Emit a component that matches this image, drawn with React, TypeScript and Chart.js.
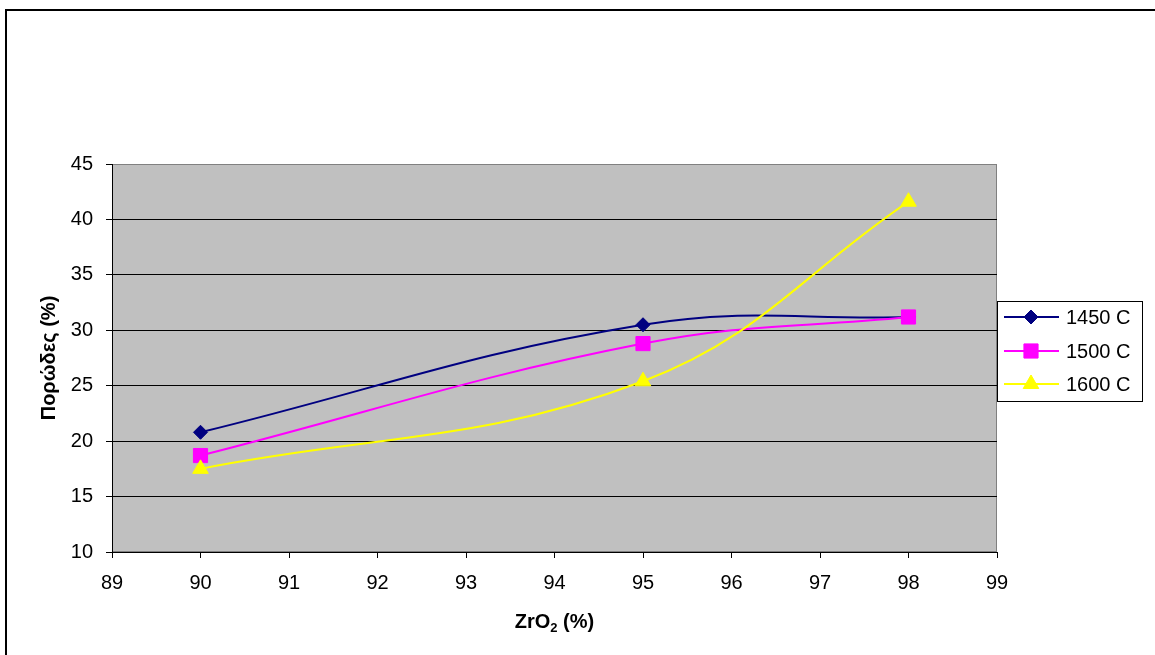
import React, { useEffect, useRef } from "react";
import { Chart, registerables } from "chart.js";

Chart.register(...registerables);

const xValues = [90, 95, 98];
const series1450 = [20.8, 30.5, 31.2];
const series1500 = [18.7, 28.8, 31.2];
const series1600 = [17.5, 25.4, 41.6];
const seriesNames = ["1450 C", "1500 C", "1600 C"];
const seriesColors = ["#000080", "#FF00FF", "#FFFF00"];
const seriesStyles = ["rectRot", "rect", "triangle"];
const seriesRadius = [7, 10, 9];
const xTitleMain = "ZrO";
const xTitleSub = "2";
const xTitleTail = " (%)";
const yTitle = "Πορώδες (%)";

const FONT = "'Liberation Sans', Arial, sans-serif";

function drawMarker(ctx: CanvasRenderingContext2D, style: string, x: number, y: number, r: number, color: string) {
  ctx.save();
  ctx.fillStyle = color;
  ctx.strokeStyle = color;
  ctx.lineWidth = 1;
  ctx.beginPath();
  if (style === "rect") {
    const s = Math.SQRT1_2 * r;
    ctx.rect(x - s, y - s, 2 * s, 2 * s);
  } else if (style === "rectRot") {
    ctx.moveTo(x - r, y);
    ctx.lineTo(x, y - r);
    ctx.lineTo(x + r, y);
    ctx.lineTo(x, y + r);
    ctx.closePath();
  } else {
    let rad = 0;
    ctx.moveTo(x + Math.sin(rad) * r, y - Math.cos(rad) * r);
    rad += (2 * Math.PI) / 3;
    ctx.lineTo(x + Math.sin(rad) * r, y - Math.cos(rad) * r);
    rad += (2 * Math.PI) / 3;
    ctx.lineTo(x + Math.sin(rad) * r, y - Math.cos(rad) * r);
    ctx.closePath();
  }
  ctx.fill();
  ctx.stroke();
  ctx.restore();
}

const decorPlugin = {
  id: "decor",
  beforeDraw(chart: any) {
    const { ctx, chartArea } = chart;
    ctx.save();
    ctx.fillStyle = "#FFFFFF";
    ctx.fillRect(0, 0, chart.width, chart.height);
    ctx.fillStyle = "#000000";
    ctx.fillRect(5, 9, chart.width, 2);
    ctx.fillRect(5, 9, 2, chart.height);
    ctx.fillStyle = "#C0C0C0";
    ctx.fillRect(chartArea.left, chartArea.top, chartArea.right - chartArea.left, chartArea.bottom - chartArea.top);
    ctx.strokeStyle = "#808080";
    ctx.lineWidth = 1;
    ctx.strokeRect(chartArea.left + 0.5, chartArea.top + 0.5, chartArea.right - chartArea.left - 1, chartArea.bottom - chartArea.top - 1);
    ctx.restore();
  },
  afterDraw(chart: any) {
    const { ctx, chartArea } = chart;
    ctx.save();
    // y title
    ctx.fillStyle = "#000";
    ctx.font = `bold 20px ${FONT}`;
    ctx.textAlign = "center";
    ctx.textBaseline = "middle";
    ctx.translate(49, (chartArea.top + chartArea.bottom) / 2);
    ctx.rotate(-Math.PI / 2);
    ctx.fillText(yTitle, 0, 0);
    ctx.restore();

    // x title with subscript
    ctx.save();
    ctx.fillStyle = "#000";
    ctx.textBaseline = "alphabetic";
    ctx.textAlign = "left";
    const mainFont = `bold 20px ${FONT}`;
    const subFont = `bold 13px ${FONT}`;
    ctx.font = mainFont;
    const w1 = ctx.measureText(xTitleMain).width;
    const w3 = ctx.measureText(xTitleTail).width;
    ctx.font = subFont;
    const w2 = ctx.measureText(xTitleSub).width;
    const total = w1 + w2 + w3;
    const cx = (chartArea.left + chartArea.right) / 2;
    const baseY = 628;
    let x = cx - total / 2;
    ctx.font = mainFont;
    ctx.fillText(xTitleMain, x, baseY);
    x += w1;
    ctx.font = subFont;
    ctx.fillText(xTitleSub, x, baseY + 4);
    x += w2;
    ctx.font = mainFont;
    ctx.fillText(xTitleTail, x, baseY);
    ctx.restore();

    // legend
    ctx.save();
    ctx.fillStyle = "#FFFFFF";
    ctx.fillRect(997, 301, 145, 100);
    ctx.strokeStyle = "#000000";
    ctx.lineWidth = 1;
    ctx.strokeRect(997.5, 301.5, 145, 100);
    const rows = [317, 351, 384];
    seriesNames.forEach((name, i) => {
      const y = rows[i];
      ctx.strokeStyle = seriesColors[i];
      ctx.lineWidth = 2;
      ctx.beginPath();
      ctx.moveTo(1004, y);
      ctx.lineTo(1059, y);
      ctx.stroke();
      drawMarker(ctx, seriesStyles[i], 1031, y, seriesRadius[i], seriesColors[i]);
      ctx.fillStyle = "#000";
      ctx.font = `20px ${FONT}`;
      ctx.textAlign = "left";
      ctx.textBaseline = "middle";
      ctx.fillText(name, 1066, y + 1);
    });
    ctx.restore();
  },
};

export default function App() {
  const canvasRef = useRef<HTMLCanvasElement | null>(null);

  useEffect(() => {
    const canvas = canvasRef.current;
    if (!canvas) return;
    const allSeries = [series1450, series1500, series1600];
    const chart = new Chart(canvas, {
      type: "line",
      data: {
        datasets: allSeries.map((vals, i) => ({
          label: seriesNames[i],
          data: xValues.map((xv, j) => ({ x: xv, y: vals[j] })),
          borderColor: seriesColors[i],
          backgroundColor: seriesColors[i],
          borderWidth: 2,
          tension: 0.4,
          fill: false,
          pointStyle: seriesStyles[i] as any,
          pointRadius: seriesRadius[i],
          pointHoverRadius: seriesRadius[i],
          pointBorderWidth: 1,
          pointBorderColor: seriesColors[i],
          pointBackgroundColor: seriesColors[i],
          order: 3 - i,
        })),
      },
      options: {
        animation: false,
        responsive: false,
        devicePixelRatio: 1,
        layout: { padding: { top: 164, right: 158, left: 0, bottom: 0 } },
        plugins: {
          legend: { display: false },
          tooltip: { enabled: false },
          title: { display: false },
        },
        scales: {
          x: {
            type: "linear",
            min: 89,
            max: 99,
            ticks: {
              stepSize: 1,
              color: "#000",
              font: { family: FONT, size: 20 },
              padding: 13,
              maxRotation: 0,
            },
            grid: {
              drawOnChartArea: false,
              drawTicks: true,
              tickLength: 6,
              color: "#000",
              tickColor: "#000",
            },
            border: { color: "#000", width: 1 },
            afterFit: (scale: any) => {
              scale.height = 103;
            },
          },
          y: {
            type: "linear",
            min: 10,
            max: 45,
            ticks: {
              stepSize: 5,
              color: "#000",
              font: { family: FONT, size: 20 },
              padding: 13,
            },
            grid: {
              drawTicks: true,
              tickLength: 6,
              color: (c: any) => (c.tick && c.tick.value === 45 ? "#808080" : "#000000"),
              tickColor: "#000",
            },
            border: { color: "#000", width: 1 },
            afterFit: (scale: any) => {
              scale.width = 112;
            },
          },
        },
      },
      plugins: [decorPlugin],
    });
    return () => chart.destroy();
  }, []);

  return (
    <div style={{ position: "absolute", left: 0, top: 0, width: 1155, height: 655 }}>
      <canvas ref={canvasRef} width={1155} height={655} style={{ display: "block" }} />
    </div>
  );
}
